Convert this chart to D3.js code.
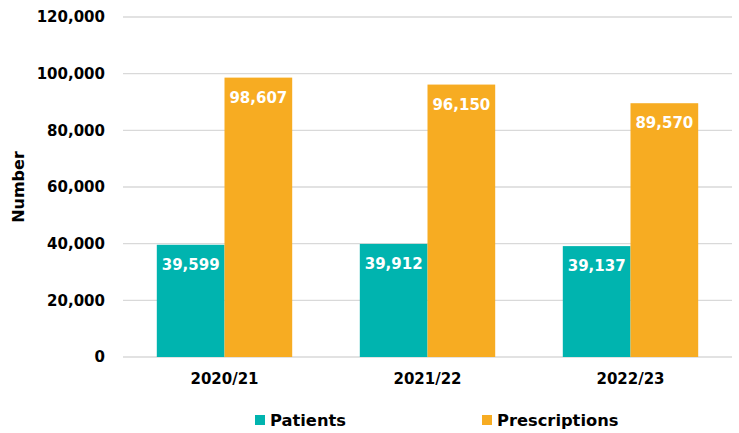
<!DOCTYPE html>
<html><head><meta charset="utf-8">
<script src="https://cdn.jsdelivr.net/npm/d3@7"></script>
<style>body{margin:0;background:#fff}svg{display:block}text{font-family:"DejaVu Sans",sans-serif;font-weight:bold}</style>
</head><body><svg id="c" width="739" height="433"></svg>
<script>
const categories = ["2020/21","2021/22","2022/23"];
const seriesNames = ["Patients","Prescriptions"];
const patients = [39599, 39912, 39137];
const prescriptions = [98607, 96150, 89570];
const yTicks = [0,20000,40000,60000,80000,100000,120000];
const colors = ["#00B4AF","#F7AC22"];

(function(){
const svg = d3.select("#c");
const mL = 123, mR = 732, mT = 17, mB = 357;
const x = d3.scaleBand().domain(categories).range([mL,mR]).paddingInner(0.333).paddingOuter(0.1665);
const xs = d3.scaleBand().domain(seriesNames).range([0,x.bandwidth()]);
const y = d3.scaleLinear().domain([0,120000]).range([mB,mT]);
const fmt = d3.format(",");

svg.append("g").selectAll("line").data(yTicks).join("line")
  .attr("x1",mL).attr("x2",mR).attr("y1",d=>y(d)).attr("y2",d=>y(d))
  .attr("stroke","#d9d9d9").attr("stroke-width",1.3);

const ya = svg.append("g").attr("transform",`translate(${mL},0)`)
  .call(d3.axisLeft(y).tickValues(yTicks).tickFormat(fmt).tickSize(0).tickPadding(18));
ya.select(".domain").remove();
ya.selectAll("text").attr("font-size",15).attr("fill","#000").style("font-family","'DejaVu Sans',sans-serif").attr("font-weight","bold");

const xa = svg.append("g").attr("transform",`translate(0,${mB})`)
  .call(d3.axisBottom(x).tickSize(0).tickPadding(16));
xa.select(".domain").remove();
xa.selectAll("text").attr("font-size",15).attr("fill","#000").style("font-family","'DejaVu Sans',sans-serif").attr("font-weight","bold");

const data = categories.map((c,i)=>({cat:c, vals:[{s:"Patients",v:patients[i]},{s:"Prescriptions",v:prescriptions[i]}]}));
const g = svg.append("g").selectAll("g").data(data).join("g").attr("transform",d=>`translate(${x(d.cat)},0)`);
g.selectAll("rect").data(d=>d.vals).join("rect")
  .attr("x",d=>xs(d.s)).attr("width",xs.bandwidth())
  .attr("y",d=>y(d.v)).attr("height",d=>mB-y(d.v))
  .attr("fill",(d,i)=>colors[i]);
g.selectAll("text.v").data(d=>d.vals).join("text").attr("class","v")
  .attr("x",d=>xs(d.s)+xs.bandwidth()/2).attr("y",d=>y(d.v)+25)
  .attr("text-anchor","middle").attr("fill","#fff").attr("font-size",15)
  .text(d=>fmt(d.v));

svg.append("text").attr("transform",`translate(24,${(mT+mB)/2}) rotate(-90)`)
  .attr("text-anchor","middle").attr("font-size",16)
  .text("Number");

const legX = [255,482];
const lg = svg.append("g").selectAll("g").data(seriesNames).join("g").attr("transform",(d,i)=>`translate(${legX[i]},0)`);
lg.append("rect").attr("x",0).attr("y",415).attr("width",10).attr("height",10).attr("fill",(d,i)=>colors[i]);
lg.append("text").attr("x",15).attr("y",426).attr("font-size",16.3).text(d=>d);
})();
</script></body></html>
